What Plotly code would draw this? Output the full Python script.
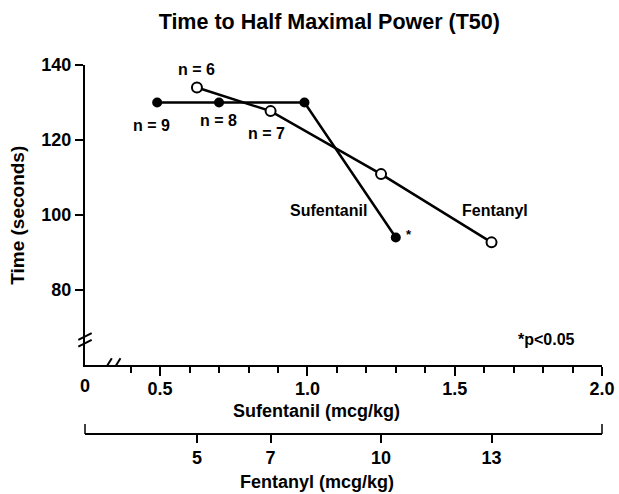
import plotly.graph_objects as go

# doses and times
sufentanil_dose = [0.49, 0.70, 0.99, 1.30]        # mcg/kg
sufentanil_t50 = [130, 130, 130, 94]              # seconds
fentanyl_dose = [5, 7, 10, 13]                    # mcg/kg
fentanyl_t50 = [134, 127.7, 110.9, 92.7]          # seconds

suf_ticks = [0.5, 1.0, 1.5, 2.0]
suf_ticktext = ["0.5", "1.0", "1.5", "2.0"]
suf_minor = [0.4, 0.6, 0.7, 0.8, 0.9, 1.1, 1.2, 1.3, 1.4, 1.6, 1.7, 1.8, 1.9]
fen_ticks = [5, 7, 10, 13]
y_ticks = [80, 100, 120, 140]

FONT = "Liberation Sans, Arial, sans-serif"
SUF_RANGE = [0.245, 2.0]
FEN_PER_SUF = 8  # fentanyl axis is 8x the sufentanil axis

fig = go.Figure()
fig.add_trace(go.Scatter(
    x=sufentanil_dose, y=sufentanil_t50, mode="lines+markers",
    line=dict(color="black", width=2.5),
    marker=dict(color="black", size=10),
    cliponaxis=False, showlegend=False,
))
fig.add_trace(go.Scatter(
    x=fentanyl_dose, y=fentanyl_t50, mode="lines+markers", xaxis="x2",
    line=dict(color="black", width=2.5),
    marker=dict(color="white", size=10, line=dict(color="black", width=2)),
    cliponaxis=False, showlegend=False,
))

def note(text, x, y, size=16, xref="x", yref="y", **kw):
    fig.add_annotation(text=text, x=x, y=y, xref=xref, yref=yref, showarrow=False,
                       xanchor="center", yanchor="middle",
                       font=dict(family=FONT, size=size, color="black", weight="bold"), **kw)

note("n = 9", 0.472, 124)
note("n = 8", 0.698, 125.1)
note("n = 7", 0.862, 121.8)
note("n = 6", 0.623, 138.7)
note("Sufentanil", 1.071, 101.1)
note("Fentanyl", 1.637, 101.1)
note("*", 1.346, 94.7, size=13)
note("*p&lt;0.05", 1.813, 66.7)
note("0", SUF_RANGE[0], 60, size=18, yshift=-21)

# axis titles
note("Time (seconds)", -0.13, 0.5935, size=19, xref="paper", yref="paper", textangle=-90)
note("Sufentanil (mcg/kg)", 0.4487, 0.0623, size=18, xref="paper", yref="paper")
note("Fentanyl (mcg/kg)", 0.4487, -0.129, size=18, xref="paper", yref="paper")

# axis break marks
for dx in (-8.7, 0):
    fig.add_shape(type="line", xref="x", yref="y", xsizemode="pixel", ysizemode="pixel",
                  xanchor=0.337, yanchor=60, x0=dx, x1=dx + 8.4, y0=-6.7, y1=6.7,
                  line=dict(color="black", width=2))
for dy in (0, -6.7):
    fig.add_shape(type="line", xref="paper", yref="y", xsizemode="pixel", ysizemode="pixel",
                  xanchor=0, yanchor=66.7, x0=-6.7, x1=6.7, y0=dy, y1=dy + 6.7,
                  line=dict(color="black", width=2))
# end ticks of the fentanyl bracket
for xa in (0, 1):
    fig.add_shape(type="line", xref="paper", yref="paper", ysizemode="pixel",
                  yanchor=0, x0=xa, x1=xa, y0=0, y1=10,
                  line=dict(color="black", width=1.5))

tickfont = dict(family=FONT, size=18, color="black", weight="bold")
fig.update_layout(
    width=619, height=494,
    margin=dict(l=85, r=17, t=65, b=60),
    paper_bgcolor="white", plot_bgcolor="white",
    title=dict(text="Time to Half Maximal Power (T50)", x=0.532, xanchor="center",
               y=0.956, yanchor="middle",
               font=dict(family=FONT, size=21.5, color="black", weight="bold")),
    xaxis=dict(range=SUF_RANGE, anchor="y", tickvals=suf_ticks, ticktext=suf_ticktext,
               ticks="outside", ticklen=9, tickwidth=2, tickcolor="black",
               ticklabelstandoff=-3,
               minor=dict(tickmode="array", tickvals=suf_minor, ticks="outside",
                          ticklen=6, tickwidth=1.5, tickcolor="black"),
               showline=True, linewidth=2, linecolor="black", automargin=False,
               showgrid=False, zeroline=False, tickfont=tickfont),
    xaxis2=dict(range=[SUF_RANGE[0] * FEN_PER_SUF, SUF_RANGE[1] * FEN_PER_SUF],
                overlaying="x", anchor="free", position=0, side="bottom",
                tickvals=fen_ticks, ticks="outside", ticklen=8, tickwidth=2,
                tickcolor="black", showline=True, linewidth=1.5, linecolor="black",
                automargin=False, showgrid=False, zeroline=False, tickfont=tickfont),
    yaxis=dict(domain=[0.187, 1], range=[60, 140], tickvals=y_ticks,
               ticks="outside", ticklen=8, tickwidth=2, tickcolor="black",
               showline=True, linewidth=2, linecolor="black", automargin=False,
               showgrid=False, zeroline=False, tickfont=tickfont),
)

# drop the browser's default 8px body margin so the figure fills the window
fig.write_html("out.html", config={"displayModeBar": False},
               post_script="document.body.style.margin='0';")
